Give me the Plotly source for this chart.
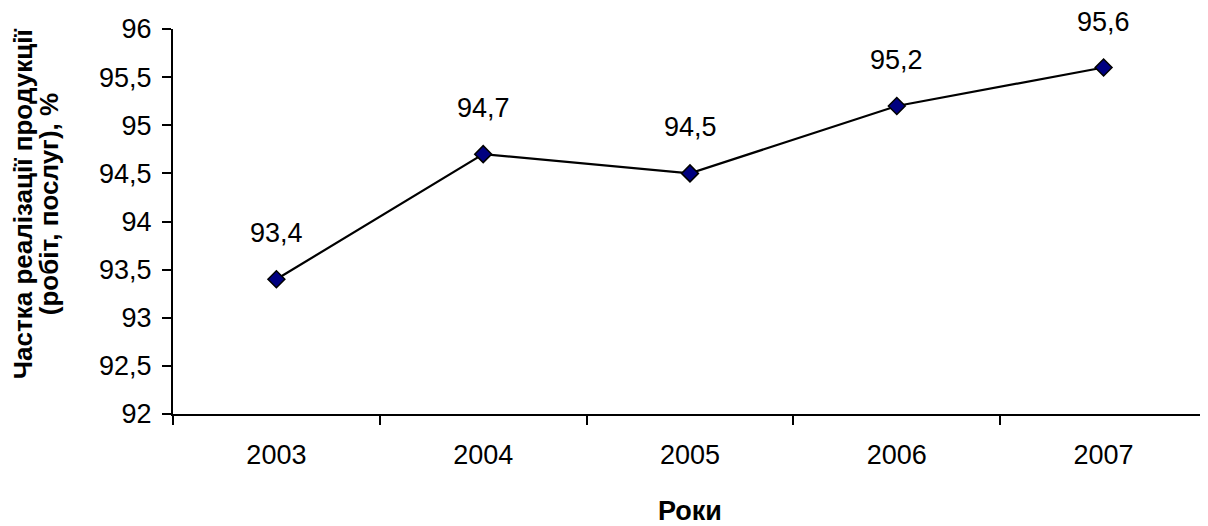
import plotly.graph_objects as go

years = ["2003", "2004", "2005", "2006", "2007"]
values = [93.4, 94.7, 94.5, 95.2, 95.6]
y_ticks = [92, 92.5, 93, 93.5, 94, 94.5, 95, 95.5, 96]
y_title_lines = ["Частка реалізації продукції", "(робіт, послуг), %"]
x_title = "Роки"

FONT = "Liberation Sans, Arial, sans-serif"

fig = go.Figure()
fig.add_trace(go.Scatter(
    x=list(range(len(years))), y=values, mode="lines+markers",
    line=dict(color="black", width=2.2),
    marker=dict(symbol="diamond", size=13, color="#000080",
                line=dict(color="black", width=1.5)),
    showlegend=False, cliponaxis=False,
))

for i, v in enumerate(values):
    fig.add_annotation(x=i, y=v, xref="x", yref="y",
                       text=str(v).replace(".", ","),
                       showarrow=False, yshift=46,
                       font=dict(family=FONT, size=27, color="black"))

# y-axis title as two rotated lines (tight line spacing as in reference)
for shift, line in zip([-150, -124], y_title_lines):
    fig.add_annotation(x=0, y=0.545, xref="paper", yref="paper",
                       text=f"<b>{line}</b>", textangle=-90,
                       showarrow=False, xanchor="center", yanchor="middle",
                       xshift=shift,
                       font=dict(family=FONT, size=26, color="black"))

fig.update_layout(
    width=1200, height=518,
    margin=dict(l=165, r=1, t=21, b=112),
    paper_bgcolor="white", plot_bgcolor="white",
    separators=", ",
    font=dict(family=FONT, size=27, color="black"),
    xaxis=dict(
        range=[-0.5, 4.5],
        tickvals=list(range(len(years))), ticktext=years,
        showline=True, linecolor="black", linewidth=2,
        showgrid=False, zeroline=False,
        ticklabelstandoff=16,
        title=dict(text=f"<b>{x_title}</b>", font=dict(size=27), standoff=32),
    ),
    yaxis=dict(
        range=[92, 96], tickvals=y_ticks,
        showline=True, linecolor="black", linewidth=2,
        ticks="outside", ticklen=9, tickwidth=2, tickcolor="black",
        showgrid=False, zeroline=False,
        ticklabelstandoff=5,
    ),
)

# category-boundary tick marks on the x axis
fig.update_xaxes(
    minor=dict(tickvals=[i - 0.5 for i in range(len(years) + 1)],
               ticks="outside", ticklen=9, tickwidth=2, tickcolor="black"),
)

fig.write_html("out.html")
